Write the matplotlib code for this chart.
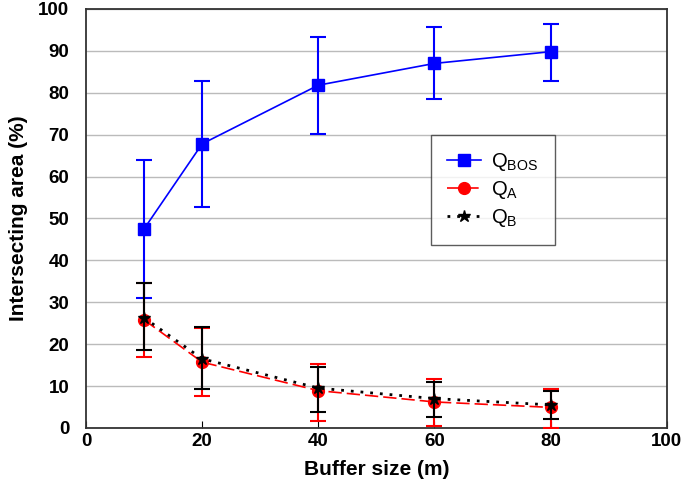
import matplotlib
matplotlib.use('Agg')
import matplotlib.pyplot as plt
from matplotlib.lines import Line2D

plt.rcParams['font.family'] = ['Liberation Sans', 'DejaVu Sans']
plt.rcParams['mathtext.fontset'] = 'custom'
plt.rcParams['mathtext.rm'] = 'Liberation Sans'

# dados
buffer = [10, 20, 40, 60, 80]

q_bos = [47.5, 67.8, 81.8, 87.0, 89.8]
q_bos_lo = [31.0, 52.8, 70.2, 78.5, 82.9]
q_bos_hi = [64.0, 82.7, 93.3, 95.7, 96.5]

q_a = [25.8, 15.7, 8.9, 6.2, 4.9]
q_a_lo = [17.0, 7.5, 1.7, 0.5, 0.0]
q_a_hi = [34.5, 23.9, 15.3, 11.6, 9.4]

q_b = [26.3, 16.5, 9.5, 7.0, 5.5]
q_b_lo = [18.5, 9.3, 3.9, 2.7, 2.1]
q_b_hi = [34.5, 24.0, 14.6, 10.9, 8.7]


def erros(v, lo, hi):
    return [[a - b for a, b in zip(v, lo)], [b - a for a, b in zip(v, hi)]]


fig = plt.figure(figsize=(6.85, 4.97), dpi=100)
ax = fig.add_axes([0.1255, 0.139, 0.848, 0.843])

ax.grid(True, axis='y', color='#bbbbbb', linewidth=1.0)
ax.set_axisbelow(True)

estilos = [
    dict(color='blue', marker='s', markersize=8, linewidth=1.2, linestyle='-'),
    dict(color='red', marker='o', markersize=8.5, linewidth=1.2, linestyle=(0, (8, 3))),
    dict(color='black', marker='*', markersize=9, linewidth=2, linestyle=(0, (1, 2.5))),
]
series = [(q_bos, q_bos_lo, q_bos_hi), (q_a, q_a_lo, q_a_hi), (q_b, q_b_lo, q_b_hi)]
rotulos = ['Q$_{\\mathrm{BOS}}$', 'Q$_{\\mathrm{A}}$', 'Q$_{\\mathrm{B}}$']

for (v, lo, hi), st, z in zip(series, estilos, [3, 3, 4]):
    ax.errorbar(buffer, v, yerr=erros(v, lo, hi), capsize=6, capthick=1.5,
                elinewidth=1.5, zorder=z, **st)

ax.set_xlim(0, 100)
ax.set_ylim(0, 100)
ax.set_xticks(range(0, 101, 20))
ax.set_yticks(range(0, 101, 10))
ax.tick_params(axis='x', direction='in', length=5, labelsize=13.5, pad=4)
ax.tick_params(axis='y', direction='in', length=0, labelsize=13.5, pad=12)
for lbl in ax.get_xticklabels() + ax.get_yticklabels():
    lbl.set_fontweight('bold')
for s in ax.spines.values():
    s.set_linewidth(1.3)
    s.set_color('#333333')

ax.set_xlabel('Buffer size (m)', fontsize=15, fontweight='bold', labelpad=7)
ax.set_ylabel('Intersecting area (%)', fontsize=15, fontweight='bold', labelpad=7)

proxies = [Line2D([], [], **st) for st in estilos]
leg = ax.legend(proxies, rotulos, loc='upper left', bbox_to_anchor=(0.594, 0.699),
                borderaxespad=0, fontsize=14.5, frameon=True, fancybox=False,
                edgecolor='#333333', handlelength=1.7, handletextpad=0.5,
                borderpad=0.8, labelspacing=0.3)
leg.get_frame().set_linewidth(1.0)

fig.savefig('out.png', dpi=100)
